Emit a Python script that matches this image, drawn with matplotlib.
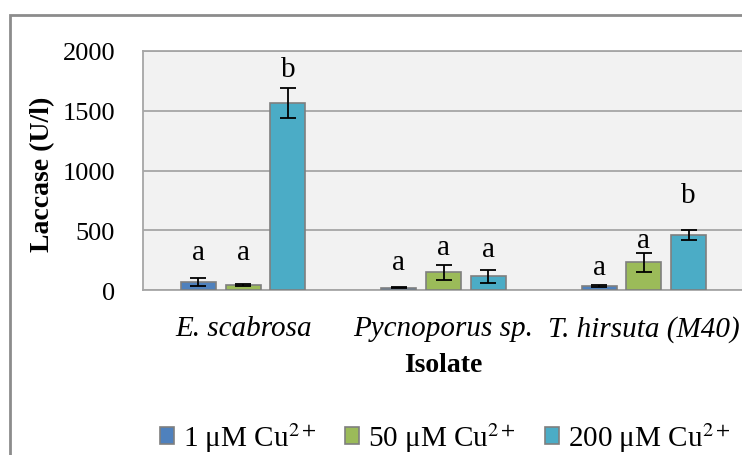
import numpy as np
import matplotlib
matplotlib.use('Agg')
import matplotlib.pyplot as plt
from matplotlib.patches import Rectangle

plt.rcParams['font.family'] = ['Liberation Serif', 'DejaVu Serif']
plt.rcParams['mathtext.fontset'] = 'stix'

# ---- data ----
isolates = ['E. scabrosa', 'Pycnoporus sp.', 'T. hirsuta (M40)']
series_names = ['1 \u03bcM Cu$^{2+}$', '50 \u03bcM Cu$^{2+}$', '200 \u03bcM Cu$^{2+}$']
cu1 = [67, 20, 31]
cu50 = [42, 148, 231]
cu200 = [1565, 115, 460]
err1 = [30, 4, 8]
err50 = [8, 63, 80]
err200 = [127, 53, 44]
# significance letters and their baseline heights (U/l)
sig1 = ['a', 'a', 'a']
sig50 = ['a', 'a', 'a']
sig200 = ['b', 'a', 'b']
sig1_y = [259, 176, 134]
sig50_y = [259, 301, 360]
sig200_y = [1791, 285, 736]

colors = ['#4f81bd', '#9bbb59', '#4bacc6']
grid_c = '#a6a6a6'

W, H = 742, 456
fig = plt.figure(figsize=(W / 100, H / 100), dpi=100)

# outer chart frame (runs off the right/bottom edge like the original)
fig.add_artist(Rectangle((10 / W, -0.1), 1.2, 1 - 16 / H + 0.1, transform=fig.transFigure,
                         fill=False, edgecolor='#8c8c8c', lw=2))

ax = fig.add_axes([143 / W, 1 - 291 / H, 601 / W, 239 / H])
ax.set_facecolor('#f2f2f2')

x = np.arange(len(isolates))
step, width = 0.223, 0.174
vals = [cu1, cu50, cu200]
errs = [err1, err50, err200]
sigs = [sig1, sig50, sig200]
sig_ys = [sig1_y, sig50_y, sig200_y]

for i in range(3):
    xs = x + (i - 1) * step
    ax.bar(xs, vals[i], width, color=colors[i], edgecolor='#7f7f7f', lw=1.2,
           label=series_names[i], zorder=3)
    ax.errorbar(xs, vals[i], yerr=errs[i], fmt='none', ecolor='black',
                elinewidth=1.3, capsize=6, capthick=1.3, zorder=4)
    for xx, s, yy in zip(xs, sigs[i], sig_ys[i]):
        ax.text(xx, yy, s, ha='center', va='baseline', fontsize=21, zorder=5)

ax.set_xlim(-0.5, 2.5)
ax.set_ylim(0, 2000)
ax.set_yticks([0, 500, 1000, 1500, 2000])
ax.yaxis.grid(True, color=grid_c, lw=1.3, zorder=0)
ax.set_axisbelow(True)
for sp in ax.spines.values():
    sp.set_color(grid_c)
    sp.set_linewidth(1.3)
ax.tick_params(axis='y', length=0, pad=20, labelsize=19)
ax.tick_params(axis='x', length=0, pad=18, labelsize=21)
ax.set_xticks(x)
ax.set_xticklabels(isolates, style='italic')

fig.text(43 / W, 1 - 174 / H, 'Laccase (U/l)', rotation=90, ha='center', va='center',
         fontsize=20, fontweight='bold')
fig.text(443 / W, 1 - 366 / H, 'Isolate', ha='center', va='center',
         fontsize=20, fontweight='bold')

fig.legend(loc='center', bbox_to_anchor=(445 / W, 1 - 438 / H), ncol=3, frameon=False,
           fontsize=21, handlelength=0.48, handleheight=0.48, handletextpad=0.3,
           columnspacing=1.0)

fig.savefig('out.png', dpi=100)
